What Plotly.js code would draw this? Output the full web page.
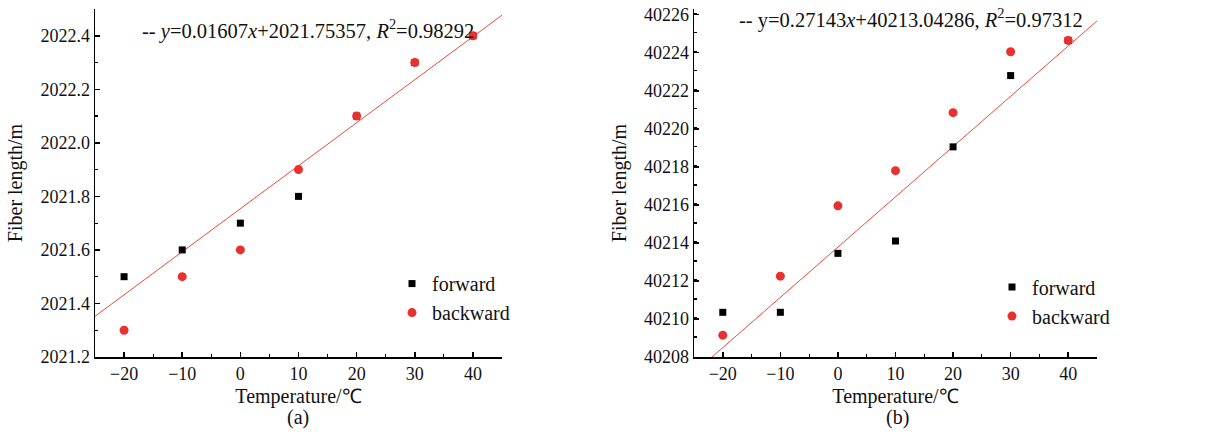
<!DOCTYPE html>
<html>
<head>
<meta charset="utf-8">
<script src="https://cdn.plot.ly/plotly-3.0.1.min.js"></script>
<style>html,body{margin:0;padding:0;background:#fff;}#chart{width:1207px;height:432px;}</style>
</head>
<body>
<div id="chart"></div>
<script>
// ---- data ----
const temperature = [-20, -10, 0, 10, 20, 30, 40];

// panel (a)
const forwardA  = [2021.5, 2021.6, 2021.7, 2021.8, 2022.1, 2022.3, 2022.4];
const backwardA = [2021.3, 2021.5, 2021.6, 2021.9, 2022.1, 2022.3, 2022.4];
const fitAx = [-26, 46];
const fitAy = [2021.336, 2022.493];
const eqA = "-- <i>y</i>=0.01607<i>x</i>+2021.75357, <i>R</i><sup>2</sup>=0.98292";

// panel (b)
const forwardB  = [40210.3, 40210.3, 40213.4, 40214.05, 40219.0, 40222.75, 40224.6];
const backwardB = [40209.1, 40212.2, 40215.9, 40217.75, 40220.8, 40224.0, 40224.6];
const fitBx = [-23, 46];
const fitBy = [40207.65, 40225.89];
const eqB = "-- y=0.27143<i>x</i>+40213.04286, <i>R</i><sup>2</sup>=0.97312";

const xTitle = "Temperature/℃";
const yTitle = "Fiber length/m";
const seriesNames = ["forward", "backward"];
const panelLabels = ["(a)", "(b)"];

// ---- style ----
const FONT = "'Liberation Serif', 'Times New Roman', serif";
const RED = "#e8302e";
const LINE_RED = "#ea4a3c";

function mk(x, y, name, color, symbol, size, xa, ya, leg) {
  return {x: x, y: y, name: name, type: "scatter", mode: "markers",
    xaxis: xa, yaxis: ya, legend: leg, cliponaxis: false,
    marker: {color: color, symbol: symbol, size: size, line: {width: 0}}};
}
const traces = [
  {x: fitAx, y: fitAy, type: "scatter", mode: "lines", showlegend: false,
   line: {color: LINE_RED, width: 1}, xaxis: "x", yaxis: "y"},
  mk(temperature, forwardA, seriesNames[0], "#000", "square", 7, "x", "y", "legend"),
  mk(temperature, backwardA, seriesNames[1], RED, "circle", 9, "x", "y", "legend"),
  {x: fitBx, y: fitBy, type: "scatter", mode: "lines", showlegend: false,
   line: {color: LINE_RED, width: 1}, xaxis: "x2", yaxis: "y2"},
  mk(temperature, forwardB, seriesNames[0], "#000", "square", 7, "x2", "y2", "legend2"),
  mk(temperature, backwardB, seriesNames[1], RED, "circle", 9, "x2", "y2", "legend2")
];

function xAxis(domain, anchor) {
  return {domain: domain, anchor: anchor, range: [-25, 45], tick0: 0, dtick: 10,
    showline: true, linecolor: "#000", linewidth: 1.5, mirror: false,
    ticks: "inside", ticklen: 5, tickwidth: 1.5, tickcolor: "#000",
    minor: {dtick: 5, tick0: 0, ticks: "inside", ticklen: 3, tickwidth: 1.2, tickcolor: "#000"},
    showgrid: false, zeroline: false,
    tickfont: {family: FONT, size: 18, color: "#111"},
    title: {text: xTitle, font: {family: FONT, size: 20, color: "#111"}, standoff: 6}};
}
function yAxis(range, dtick, minorD, fmt, anchor) {
  return {anchor: anchor, domain: [0, 1], range: range, tick0: range[0], dtick: dtick, tickformat: fmt,
    showline: true, linecolor: "#000", linewidth: 1.5, mirror: false,
    ticks: "inside", ticklen: 5, tickwidth: 1.5, tickcolor: "#000",
    minor: {dtick: minorD, ticks: "inside", ticklen: 3, tickwidth: 1.2, tickcolor: "#000"},
    showgrid: false, zeroline: false,
    tickfont: {family: FONT, size: 18, color: "#111"},
    title: {text: yTitle, font: {family: FONT, size: 20, color: "#111"}, standoff: 12}};
}

const layout = {
  width: 1207, height: 432,
  margin: {l: 0, r: 0, t: 9, b: 75},
  paper_bgcolor: "#fff", plot_bgcolor: "#fff",
  font: {family: FONT, color: "#111"},
  xaxis: xAxis([95/1207, 502/1207], "y"),
  yaxis: yAxis([2021.2, 2022.5], 0.2, 0.1, ".1f", "x"),
  xaxis2: xAxis([694/1207, 1097/1207], "y2"),
  yaxis2: yAxis([40207.95, 40226.25], 2, 1, "d", "x2"),
  legend: {x: 392/1207, y: 0.267, xanchor: "left", yanchor: "top",
    bgcolor: "rgba(0,0,0,0)", font: {family: FONT, size: 20, color: "#111"}, itemwidth: 30},
  legend2: {x: 992/1207, y: 0.257, xanchor: "left", yanchor: "top",
    bgcolor: "rgba(0,0,0,0)", font: {family: FONT, size: 20, color: "#111"}, itemwidth: 30},
  annotations: [
    {text: eqA, xref: "paper", yref: "paper", x: 140/1207, y: (357-29)/348, xanchor: "left", yanchor: "middle",
     showarrow: false, font: {family: FONT, size: 20.5, color: "#111"}},
    {text: eqB, xref: "paper", yref: "paper", x: 737/1207, y: (357-18)/348, xanchor: "left", yanchor: "middle",
     showarrow: false, font: {family: FONT, size: 20.5, color: "#111"}},
    {text: panelLabels[0], xref: "paper", yref: "paper", x: 298/1207, y: (357-417)/348, xanchor: "center", yanchor: "middle",
     showarrow: false, font: {family: FONT, size: 20, color: "#111"}},
    {text: panelLabels[1], xref: "paper", yref: "paper", x: 897/1207, y: (357-417)/348, xanchor: "center", yanchor: "middle",
     showarrow: false, font: {family: FONT, size: 20, color: "#111"}}
  ],
  showlegend: true
};

Plotly.newPlot("chart", traces, layout, {displayModeBar: false, staticPlot: true});
</script>
</body>
</html>
